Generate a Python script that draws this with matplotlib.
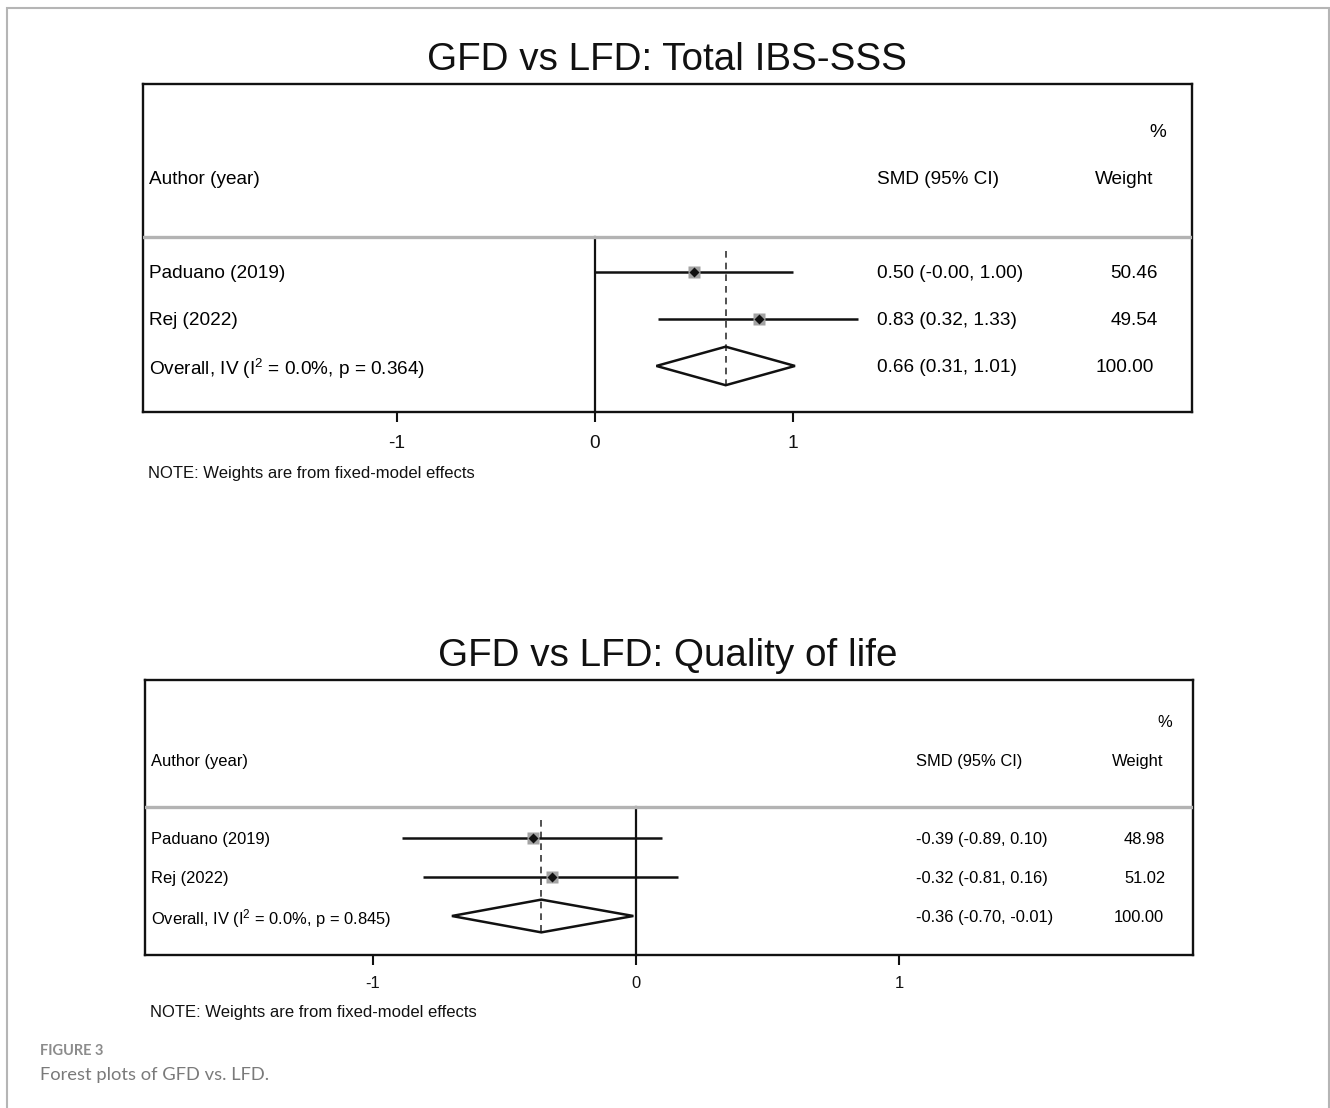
import matplotlib
matplotlib.use("Agg")
import matplotlib.pyplot as plt
from matplotlib.patches import Polygon, Rectangle
import matplotlib.transforms as mtransforms

plt.rcParams['font.family'] = ['Liberation Sans', 'DejaVu Sans']
plt.rcParams['mathtext.fontset'] = 'custom'
plt.rcParams['mathtext.rm'] = 'Liberation Sans'
plt.rcParams['mathtext.it'] = 'Liberation Sans:italic'

# ---------------- data ----------------
studies = ["Paduano (2019)", "Rej (2022)"]

titles = ["GFD vs LFD: Total IBS-SSS", "GFD vs LFD: Quality of life"]

# panel 1: Total IBS-SSS
smd_1 = [0.50, 0.83]
lo_1 = [-0.00, 0.32]
hi_1 = [1.00, 1.33]
wt_1 = ["50.46", "49.54"]
ci_1 = ["0.50 (-0.00, 1.00)", "0.83 (0.32, 1.33)"]
ov_1 = [0.66, 0.31, 1.01]
ov_ci_1 = "0.66 (0.31, 1.01)"
ov_lab_1 = "Overall, IV (I$^{2}$ = 0.0%, p = 0.364)"

# panel 2: Quality of life
smd_2 = [-0.39, -0.32]
lo_2 = [-0.89, -0.81]
hi_2 = [0.10, 0.16]
wt_2 = ["48.98", "51.02"]
ci_2 = ["-0.39 (-0.89, 0.10)", "-0.32 (-0.81, 0.16)"]
ov_2 = [-0.36, -0.70, -0.01]
ov_ci_2 = "-0.36 (-0.70, -0.01)"
ov_lab_2 = "Overall, IV (I$^{2}$ = 0.0%, p = 0.845)"

xticks = [-1, 0, 1]
xticklabels = ["-1", "0", "1"]

# ---------------- layout ----------------
W, H = 1330, 1108
fig = plt.figure(figsize=(W / 100, H / 100), dpi=100)


def px_rect(x0, y0, x1, y1):
    return [x0 / W, 1 - y1 / H, (x1 - x0) / W, (y1 - y0) / H]


panels = [
    dict(box=(143, 84, 1192, 412), zero=595, unit=198, ylim=(3.98, -3.0),
         hdr=0.255, title_y=60, fs=13.7, tfs=27.8, ms_sq=8.8, ms_d=5.5,
         smd_x=0.6997, wt_x=0.967, tot_dx=-0.003, pct_x=0.9676, wth_x=0.935,
         half=0.41, note_y=473, pad=9,
         smd=smd_1, lo=lo_1, hi=hi_1, wt=wt_1, ci=ci_1, ov=ov_1,
         ov_ci=ov_ci_1, ov_lab=ov_lab_1, title=titles[0]),
    dict(box=(145, 680, 1193, 955), zero=636, unit=263, ylim=(4.0, -3.05),
         hdr=0.2, title_y=656, fs=11.9, tfs=27.8, ms_sq=8.0, ms_d=5.0,
         smd_x=0.7357, wt_x=0.9733, tot_dx=-0.001, pct_x=0.973, wth_x=0.947,
         half=0.42, note_y=1013, pad=7.5,
         smd=smd_2, lo=lo_2, hi=hi_2, wt=wt_2, ci=ci_2, ov=ov_2,
         ov_ci=ov_ci_2, ov_lab=ov_lab_2, title=titles[1]),
]

VA = "center_baseline"

for p in panels:
    x0, y0, x1, y1 = p["box"]
    ax = fig.add_axes(px_rect(x0, y0, x1, y1))
    ax.set_xlim((x0 - p["zero"]) / p["unit"], (x1 - p["zero"]) / p["unit"])
    ax.set_ylim(*p["ylim"])
    for s in ax.spines.values():
        s.set_linewidth(1.7)
        s.set_color("#111111")
    ax.set_yticks([])
    ax.set_xticks(xticks)
    ax.set_xticklabels(xticklabels)
    ax.tick_params(axis="x", direction="out", length=7.5, width=1.5,
                   pad=p["pad"], labelsize=p["fs"], colors="#111111")

    # header separator
    ax.axhline(p["hdr"], color="#b3b3b3", lw=2.4, zorder=3)
    # null line
    ax.plot([0, 0], [p["hdr"], p["ylim"][0]], color="#111111", lw=1.6,
            zorder=2, clip_on=False)

    tr = mtransforms.blended_transform_factory(ax.transAxes, ax.transData)
    fs = p["fs"]
    # headers
    ax.text(0.0057, -1, "Author (year)", transform=tr, ha="left",
            va=VA, fontsize=fs)
    ax.text(p["smd_x"], -1, "SMD (95% CI)", transform=tr, ha="left",
            va=VA, fontsize=fs)
    ax.text(p["wth_x"], -1, "Weight", transform=tr, ha="center",
            va=VA, fontsize=fs)
    ax.text(p["pct_x"], -2, "%", transform=tr, ha="center",
            va=VA, fontsize=fs)

    # studies
    for i, name in enumerate(studies):
        y = i + 1
        ax.plot([p["lo"][i], p["hi"][i]], [y, y], color="#111111", lw=1.8,
                zorder=4, solid_capstyle="butt")
        ax.plot(p["smd"][i], y, marker="s", ms=p["ms_sq"], color="#a3a3a3",
                mec="none", zorder=5)
        ax.plot(p["smd"][i], y, marker="D", ms=p["ms_d"], color="#111111",
                mec="none", zorder=6)
        ax.text(0.0057, y, name, transform=tr, ha="left", va=VA,
                fontsize=fs)
        ax.text(p["smd_x"], y, p["ci"][i], transform=tr, ha="left",
                va=VA, fontsize=fs)
        ax.text(p["wt_x"], y, p["wt"][i], transform=tr, ha="right",
                va=VA, fontsize=fs)

    # overall
    yo = len(studies) + 1
    est, olo, ohi = p["ov"]
    h = p["half"]
    ax.add_patch(Polygon([(olo, yo), (est, yo - h), (ohi, yo), (est, yo + h)],
                         closed=True, fill=False, ec="#111111", lw=1.8,
                         zorder=5))
    ax.plot([est, est], [0.55, yo + h], color="#333333", lw=1.2,
            ls=(0, (4, 3)), zorder=3)
    ax.text(0.0057, yo, p["ov_lab"], transform=tr, ha="left", va=VA,
            fontsize=fs)
    ax.text(p["smd_x"], yo, p["ov_ci"], transform=tr, ha="left",
            va=VA, fontsize=fs)
    ax.text(p["wt_x"] + p["tot_dx"], yo, "100.00", transform=tr, ha="right",
            va=VA, fontsize=fs)

    # title & note
    fig.text(((x0 + x1) / 2 - 1) / W, 1 - p["title_y"] / H, p["title"],
             ha="center", va="center", fontsize=p["tfs"], color="#111111")
    fig.text((x0 + 5) / W, 1 - p["note_y"] / H,
             "NOTE: Weights are from fixed-model effects",
             ha="left", va="center", fontsize=12, color="#111111")

# caption
fig.text(40 / W, 1 - 1051 / H, "FIGURE 3", ha="left", va="center",
         fontsize=10.5, fontweight="bold", color="#8c8c8c",
         family=["Lato", "DejaVu Sans"])
fig.text(40 / W, 1 - 1075 / H, "Forest plots of GFD vs. LFD.", ha="left",
         va="center", fontsize=13.2, color="#7a7a7a",
         family=["Lato", "DejaVu Sans"])

# outer frame
fig.add_artist(Rectangle((6.5 / W, -0.05), (1329 - 6.5) / W,
                         1.05 - 7.5 / H, transform=fig.transFigure,
                         fill=False, ec="#b5b5b5", lw=1.5, clip_on=False))

fig.savefig("out.png", dpi=100)
